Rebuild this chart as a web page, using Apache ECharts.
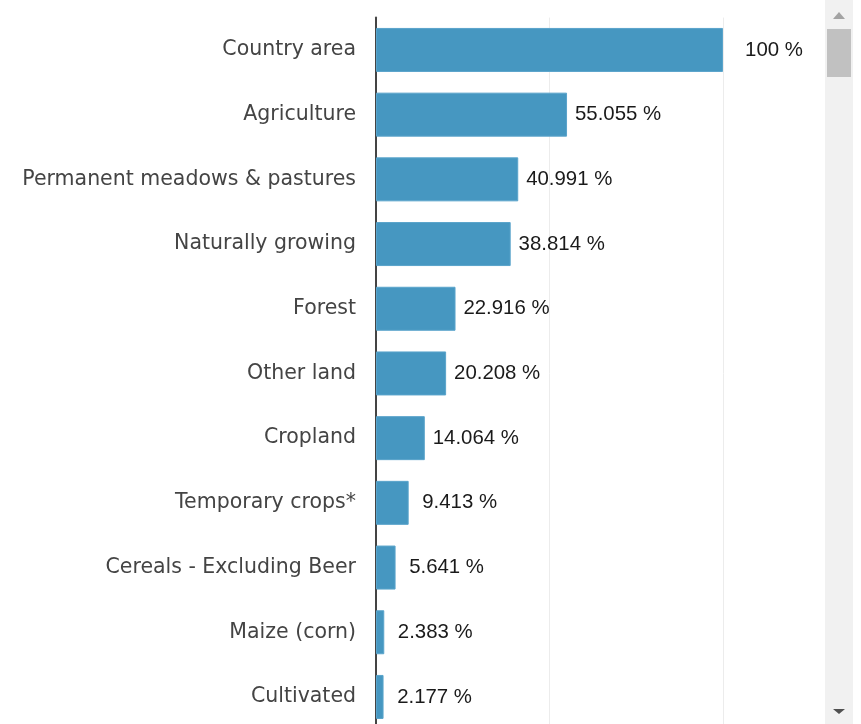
<!DOCTYPE html>
<html>
<head>
<meta charset="utf-8">
<script src="https://cdn.jsdelivr.net/npm/echarts@6/dist/echarts.min.js"></script>
<style>
  html, body { margin: 0; padding: 0; background: #fff; overflow: hidden; }
  #wrap { position: relative; width: 861px; height: 724px; overflow: hidden; }
  #chart { position: absolute; left: 0; top: 0; width: 825px; height: 780px; }
  /* scroll track on the right of the panel */
  #track { position: absolute; left: 825px; top: 0; width: 28px; height: 724px; background: #f1f1f1; }
  #thumb { position: absolute; left: 2px; top: 29px; width: 24px; height: 48px; background: #c1c1c1; }
  #up { position: absolute; left: 8px; top: 12px; width: 0; height: 0;
        border-left: 6px solid transparent; border-right: 6px solid transparent; border-bottom: 7px solid #a3a3a3; }
  #down { position: absolute; left: 8px; top: 709px; width: 0; height: 0;
        border-left: 6px solid transparent; border-right: 6px solid transparent; border-top: 5px solid #505050; }
</style>
</head>
<body>
<div id="wrap">
  <div id="chart"></div>
  <div id="track"><div id="up"></div><div id="thumb"></div><div id="down"></div></div>
</div>
<script>
// Land use shares, percent of country area
const categories = [
  'Country area',
  'Agriculture',
  'Permanent meadows & pastures',
  'Naturally growing',
  'Forest',
  'Other land',
  'Cropland',
  'Temporary crops*',
  'Cereals - Excluding Beer',
  'Maize (corn)',
  'Cultivated'
];
const shares = [100, 55.055, 40.991, 38.814, 22.916, 20.208, 14.064, 9.413, 5.641, 2.383, 2.177];

const chart = echarts.init(document.getElementById('chart'), null, { renderer: 'canvas' });

const band = 64.7;

chart.setOption({
  animation: false,
  grid: { left: 376, top: 17.6, width: 347, height: band * categories.length, outerBoundsMode: 'none' },
  xAxis: {
    type: 'value',
    min: 0,
    max: 100,
    interval: 50,
    axisLine: { show: false },
    axisTick: { show: false },
    axisLabel: { show: false },
    splitLine: { show: true, lineStyle: { color: '#ececec', width: 1 } }
  },
  yAxis: {
    type: 'category',
    data: categories,
    inverse: true,
    axisLine: { show: true, lineStyle: { color: '#444', width: 2 } },
    axisTick: { show: false },
    axisLabel: {
      margin: 20,
      color: '#444',
      fontFamily: 'DejaVu Sans',
      fontSize: 20.5,
      padding: [4, 0, 0, 0]
    },
    splitLine: { show: false }
  },
  series: [{
    type: 'bar',
    data: shares,
    barWidth: 44,
    itemStyle: { color: '#4697c1', borderColor: '#5aa4cb', borderWidth: 1 },
    label: {
      show: true,
      position: 'right',
      distance: 51,
      align: 'center',
      color: '#1a1a1a',
      fontFamily: 'Liberation Sans',
      fontSize: 20.4,
      padding: [2, 0, 0, 0],
      formatter: p => p.value + ' %'
    }
  }]
});
</script>
</body>
</html>
